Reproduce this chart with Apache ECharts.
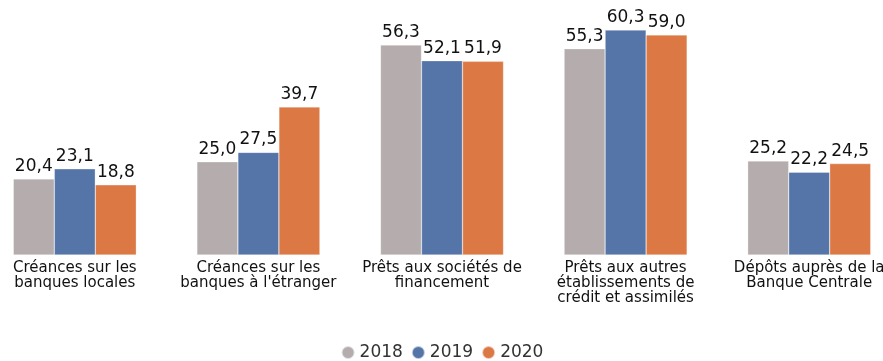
<!DOCTYPE html>
<html>
<head>
<meta charset="utf-8">
<script src="https://cdn.jsdelivr.net/npm/echarts@6/dist/echarts.min.js"></script>
<style>
  html, body { margin: 0; padding: 0; background: #fff; overflow: hidden; }
  body { width: 883px; height: 361px; position: relative; }
  #chart { position: absolute; left: -17px; top: 0; width: 918px; height: 361px; }
</style>
</head>
<body>
<div id="chart"></div>
<script>
const categories = [
  "Créances sur les\nbanques locales",
  "Créances sur les\nbanques à l'étranger",
  "Prêts aux sociétés de\nfinancement",
  "Prêts aux autres\nétablissements de\ncrédit et assimilés",
  "Dépôts auprès de la\nBanque Centrale"
];
const years = ["2018", "2019", "2020"];
const values2018 = [20.4, 25.0, 56.3, 55.3, 25.2];
const values2019 = [23.1, 27.5, 52.1, 60.3, 22.2];
const values2020 = [18.8, 39.7, 51.9, 59.0, 24.5];
const colors = ["#b5adad", "#5575a9", "#dc7843"];

const FONT = "DejaVu Sans";
const fmt = v => v.toFixed(1).replace(".", ",");

const chart = echarts.init(document.getElementById("chart"));
const makeSeries = (name, data, color) => ({
  name,
  type: "bar",
  data,
  barGap: "0%",
  barCategoryGap: "33%",
  itemStyle: { color, borderColor: "rgba(255,255,255,0.6)", borderWidth: 0.5 },
  label: {
    show: true,
    position: "top",
    distance: 4,
    formatter: p => fmt(p.value),
    fontFamily: FONT,
    fontSize: 17,
    color: "#111"
  }
});

chart.setOption({
  animation: false,
  grid: { left: 0, right: 0, top: 12.5, bottom: 106, containLabel: false },
  legend: {
    data: years,
    bottom: -5,
    left: "center",
    icon: "circle",
    itemWidth: 13,
    itemHeight: 13,
    itemGap: 8,
    textStyle: { fontFamily: FONT, fontSize: 17, color: "#333" }
  },
  xAxis: {
    type: "category",
    data: categories,
    axisLine: { show: false },
    axisTick: { show: false },
    axisLabel: {
      interval: 0,
      margin: 6,
      fontFamily: FONT,
      fontSize: 15,
      lineHeight: 15,
      color: "#111"
    }
  },
  yAxis: {
    type: "value",
    min: 0,
    max: 65,
    show: false,
    splitLine: { show: false }
  },
  series: [
    makeSeries(years[0], values2018, colors[0]),
    makeSeries(years[1], values2019, colors[1]),
    makeSeries(years[2], values2020, colors[2])
  ]
});
</script>
</body>
</html>
